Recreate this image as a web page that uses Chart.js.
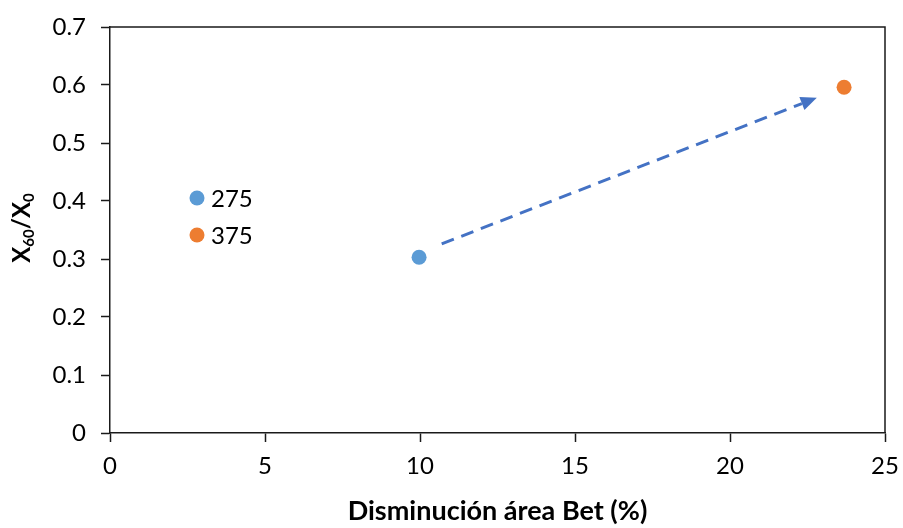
<!DOCTYPE html>
<html>
<head>
<meta charset="utf-8">
<script src="https://cdn.jsdelivr.net/npm/chart.js@4/dist/chart.umd.min.js"></script>
<style>
  body { margin: 0; background: #fff; }
  #grafico { display: block; }
</style>
</head>
<body>
<canvas id="grafico" width="903" height="528"></canvas>
<script>
// dati
const serieLabels = ['275', '375'];
const serieX = [9.97, 23.68];
const serieY = [0.303, 0.596];
const serieColori = ['#5B9BD5', '#ED7D31'];

const xTicks = [0, 5, 10, 15, 20, 25];
const yTicks = [0, 0.1, 0.2, 0.3, 0.4, 0.5, 0.6, 0.7];

// freccia tratteggiata (coordinate dati)
const frecciaDa = [10.7, 0.326];
const frecciaA = [22.8, 0.578];

const titoloX = 'Disminución área Bet (%)';
const titoloY = [['X', false], ['60', true], ['/X', false], ['0', true]];

const FONT = 'Lato, "Open Sans", sans-serif';
const nero = '#1a1a1a';

const datasets = serieLabels.map((lab, i) => ({
    label: lab,
    data: [{ x: serieX[i], y: serieY[i] }],
    backgroundColor: serieColori[i],
    borderColor: serieColori[i],
    pointRadius: 7.5,
    pointHoverRadius: 7.5,
    borderWidth: 0
}));

// cornice, freccia, legenda e titolo asse y
const extra = {
    id: 'extra',
    afterDatasetsDraw(chart) {
        const ctx = chart.ctx;
        const a = chart.chartArea;
        const sx = chart.scales.x, sy = chart.scales.y;

        ctx.save();
        ctx.strokeStyle = nero;
        ctx.lineWidth = 1.5;
        ctx.beginPath();
        ctx.moveTo(a.left, a.top);
        ctx.lineTo(a.right, a.top);
        ctx.lineTo(a.right, a.bottom);
        ctx.stroke();

        // freccia
        const x1 = sx.getPixelForValue(frecciaDa[0]), y1 = sy.getPixelForValue(frecciaDa[1]);
        const x2 = sx.getPixelForValue(frecciaA[0]), y2 = sy.getPixelForValue(frecciaA[1]);
        const ang = Math.atan2(y2 - y1, x2 - x1);
        const lungTesta = 16, largTesta = 7;
        const xb = x2 - Math.cos(ang) * lungTesta, yb = y2 - Math.sin(ang) * lungTesta;
        ctx.strokeStyle = '#4472C4';
        ctx.fillStyle = '#4472C4';
        ctx.lineWidth = 3;
        ctx.setLineDash([13, 8]);
        ctx.beginPath();
        ctx.moveTo(x1, y1);
        ctx.lineTo(xb, yb);
        ctx.stroke();
        ctx.setLineDash([]);
        ctx.beginPath();
        ctx.moveTo(x2, y2);
        ctx.lineTo(xb + Math.sin(ang) * largTesta, yb - Math.cos(ang) * largTesta);
        ctx.lineTo(xb - Math.sin(ang) * largTesta, yb + Math.cos(ang) * largTesta);
        ctx.closePath();
        ctx.fill();

        // legenda
        ctx.font = '24px ' + FONT;
        ctx.textBaseline = 'middle';
        chart.data.datasets.forEach((ds, i) => {
            const lx = a.left + 87, ly = a.top + 171 + i * 37;
            ctx.fillStyle = ds.backgroundColor;
            ctx.beginPath();
            ctx.arc(lx, ly, 7.5, 0, Math.PI * 2);
            ctx.fill();
            ctx.fillStyle = '#000';
            ctx.fillText(ds.label, lx + 14, ly + 1);
        });

        // titolo asse y con pedici
        ctx.translate(22, 228);
        ctx.rotate(-Math.PI / 2);
        const fGrande = 'bold 24px ' + FONT, fPiccolo = 'bold 15px ' + FONT;
        let tot = 0;
        titoloY.forEach(p => { ctx.font = p[1] ? fPiccolo : fGrande; tot += ctx.measureText(p[0]).width; });
        let px = -tot / 2;
        ctx.fillStyle = '#000';
        titoloY.forEach(p => {
            ctx.font = p[1] ? fPiccolo : fGrande;
            ctx.fillText(p[0], px, p[1] ? 7 : 0);
            px += ctx.measureText(p[0]).width;
        });
        ctx.restore();
    }
};

new Chart(document.getElementById('grafico'), {
    type: 'scatter',
    data: { datasets: datasets },
    options: {
        responsive: false,
        animation: false,
        devicePixelRatio: 1,
        layout: { padding: { left: 0, right: 18, top: 27, bottom: 0 } },
        plugins: { legend: { display: false }, tooltip: { enabled: false } },
        scales: {
            x: {
                type: 'linear',
                min: 0, max: 25,
                afterBuildTicks: s => { s.ticks = xTicks.map(v => ({ value: v })); },
                afterFit: s => { s.height = 95; s.paddingLeft = 0; s.paddingRight = 0; },
                grid: { drawOnChartArea: false, drawTicks: true, tickLength: 9, color: nero, tickWidth: 1.5 },
                border: { display: true, color: nero, width: 1.5 },
                ticks: { color: '#000', font: { family: FONT, size: 24 }, padding: 10, maxRotation: 0 },
                title: { display: true, text: titoloX, color: '#000', font: { family: FONT, size: 27, weight: 'bold' }, padding: { top: 0, bottom: 1 } }
            },
            y: {
                type: 'linear',
                min: 0, max: 0.7,
                afterBuildTicks: s => { s.ticks = yTicks.map(v => ({ value: v })); },
                afterFit: s => { s.width = 110; s.paddingTop = 0; s.paddingBottom = 0; },
                grid: { drawOnChartArea: false, drawTicks: true, tickLength: 9, color: nero, tickWidth: 1.5 },
                border: { display: true, color: nero, width: 1.5 },
                ticks: { color: '#000', font: { family: FONT, size: 24 }, padding: 15 }
            }
        }
    },
    plugins: [extra]
});
</script>
</body>
</html>
